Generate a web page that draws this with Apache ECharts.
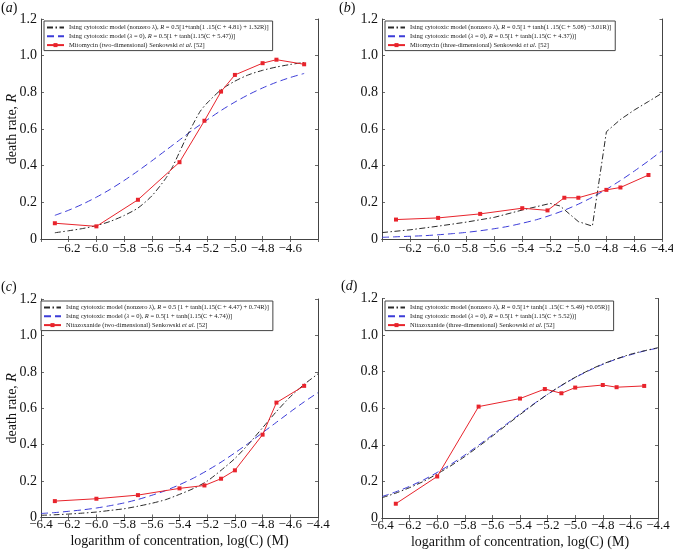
<!DOCTYPE html>
<html><head><meta charset="utf-8">
<script src="https://cdn.jsdelivr.net/npm/echarts@6/dist/echarts.min.js"></script>
<style>html,body{margin:0;padding:0;background:#fff}#c{width:673px;height:550px}</style>
</head><body><div id="c"></div>
<script>
// ---------- data ----------
const expX = [-6.3, -6.0, -5.7, -5.4, -5.22, -5.1, -5.0, -4.8, -4.7, -4.5];
const redA = [0.086, 0.069, 0.214, 0.419, 0.645, 0.804, 0.895, 0.959, 0.978, 0.953];
const redB = [0.106, 0.115, 0.137, 0.168, 0.156, 0.225, 0.225, 0.268, 0.281, 0.349];
const redC = [0.090, 0.103, 0.123, 0.160, 0.176, 0.213, 0.259, 0.455, 0.631, 0.723];
const redD = [0.078, 0.227, 0.609, 0.653, 0.705, 0.682, 0.713, 0.727, 0.715, 0.722];

const xA = [-6.3, -6.2, -6.1, -6.0, -5.9, -5.8, -5.7, -5.6, -5.5, -5.4, -5.3, -5.2, -5.1, -5.0, -4.9, -4.8, -4.7, -4.6, -4.5];
const blueA = [0.129, 0.157, 0.190, 0.228, 0.271, 0.319, 0.371, 0.426, 0.483, 0.540, 0.597, 0.650, 0.701, 0.747, 0.788, 0.824, 0.855, 0.881, 0.903];
const xABlack = [-6.3, -6.2, -6.1, -6.0, -5.9, -5.8, -5.7, -5.6, -5.5, -5.45, -5.4, -5.35, -5.3, -5.25, -5.2, -5.1, -5.0, -4.9, -4.8, -4.7, -4.6, -4.5];
const blackA = [0.034, 0.045, 0.057, 0.073, 0.096, 0.128, 0.169, 0.235, 0.330, 0.394, 0.474, 0.555, 0.629, 0.697, 0.742, 0.814, 0.861, 0.896, 0.920, 0.938, 0.952, 0.963];

const xFull = [-6.4, -6.3, -6.2, -6.1, -6.0, -5.9, -5.8, -5.7, -5.6, -5.5, -5.4, -5.3, -5.2, -5.1, -5.0, -4.9, -4.8, -4.7, -4.6, -4.5, -4.4];
const blueB = [0.009, 0.012, 0.015, 0.018, 0.023, 0.029, 0.036, 0.045, 0.056, 0.069, 0.086, 0.105, 0.129, 0.157, 0.190, 0.228, 0.271, 0.319, 0.371, 0.426, 0.483];
const xBBlack = [-6.4, -6.2, -6.0, -5.8, -5.6, -5.4, -5.3, -5.2, -5.13, -5.0, -4.9, -4.8, -4.7, -4.6, -4.5, -4.4];
const blackB = [0.035, 0.050, 0.070, 0.092, 0.118, 0.158, 0.176, 0.194, 0.180, 0.095, 0.070, 0.585, 0.652, 0.704, 0.750, 0.797];

const blueC = [0.022, 0.027, 0.034, 0.042, 0.052, 0.065, 0.080, 0.099, 0.122, 0.148, 0.180, 0.216, 0.258, 0.304, 0.355, 0.409, 0.466, 0.523, 0.580, 0.635, 0.686];
const blackC = [0.012, 0.015, 0.019, 0.024, 0.030, 0.039, 0.048, 0.062, 0.078, 0.098, 0.127, 0.159, 0.200, 0.259, 0.324, 0.404, 0.493, 0.582, 0.663, 0.731, 0.789];

const blueD = [0.117, 0.143, 0.173, 0.208, 0.249, 0.294, 0.344, 0.398, 0.454, 0.512, 0.569, 0.624, 0.676, 0.724, 0.768, 0.806, 0.840, 0.869, 0.892, 0.913, 0.929];
const blackD = [0.111, 0.136, 0.166, 0.200, 0.241, 0.286, 0.336, 0.391, 0.448, 0.507, 0.565, 0.622, 0.676, 0.725, 0.769, 0.808, 0.842, 0.870, 0.895, 0.914, 0.931];

const yTickLabels = [0, 0.2, 0.4, 0.6, 0.8, 1.0, 1.2];
const xTicksA = [-6.2, -6.0, -5.8, -5.6, -5.4, -5.2, -5.0, -4.8, -4.6];
const xTicksB = [-6.2, -6.0, -5.8, -5.6, -5.4, -5.2, -5.0, -4.8, -4.6, -4.4];
const xTicksCD = [-6.4, -6.2, -6.0, -5.8, -5.6, -5.4, -5.2, -5.0, -4.8, -4.6, -4.4];

const namesA = ['Ising cytotoxic model (nonzero λ), R = 0.5[1+tanh(1 .15(C + 4.81) + 1.32R)]',
  'Ising cytotoxic model (λ = 0), R = 0.5[1 + tanh(1.15(C + 5.47))]',
  'Mitomycin (two-dimensional) Senkowski et al. [52]'];
const namesB = ['Ising cytotoxic model (nonzero λ), R = 0.5[1 + tanh(1 .15(C + 5.08) −3.01R)]',
  'Ising cytotoxic model (λ = 0), R = 0.5[1 + tanh(1.15(C + 4.37))]',
  'Mitomycin (three-dimensional) Senkowski et al. [52]'];
const namesC = ['Ising cytotoxic model (nonzero λ), R = 0.5 [1 + tanh(1.15(C + 4.47) + 0.74R)]',
  'Ising cytotoxic model (λ = 0), R = 0.5[1 + tanh(1.15(C + 4.74))]',
  'Nitazoxanide (two-dimensional) Senkowski et al. [52]'];
const namesD = ['Ising cytotoxic model (nonzero λ), R = 0.5[1+ tanh(1 .15(C + 5.49) +0.05R)]',
  'Ising cytotoxic model (λ = 0), R = 0.5[1 + tanh(1.15(C + 5.52))]',
  'Nitazoxanide (three-dimensional) Senkowski et al. [52]'];
const panelLetters = ['a', 'b', 'c', 'd'];
const yTitle = 'death rate, ';
const xTitle = 'logarithm of concentration, log(C) (M)';

// ---------- layout / style ----------
const FONT = 'Liberation Serif';
const RED = '#e8242c', BLUE = '#3c3cd8', BLACK = '#2a2a2a', FRAME = '#444';
const zip = (xs, ys) => xs.map((x, i) => [x, ys[i]]);

const panels = [
  {grid: {left: 41, top: 19, width: 277, height: 220}, ticks: xTicksA, names: namesA,
   black: zip(xABlack, blackA), blue: zip(xA, blueA), red: zip(expX, redA), blackSmooth: 0.25,
   legend: {left: 44, top: 21}, yName: true, xName: false, xMargin: 3.5, title: {left: 1, top: 1}},
  {grid: {left: 382, top: 19, width: 280.5, height: 220}, ticks: xTicksB, names: namesB,
   black: zip(xBBlack, blackB), blue: zip(xFull, blueB), red: zip(expX, redB), blackSmooth: false,
   legend: {left: 385, top: 21}, yName: false, xName: false, xMargin: 3.5, title: {left: 339, top: 1}},
  {grid: {left: 41, top: 299, width: 277, height: 218.5}, ticks: xTicksCD, names: namesC,
   black: zip(xFull, blackC), blue: zip(xFull, blueC), red: zip(expX, redC), blackSmooth: 0.25,
   legend: {left: 41, top: 301}, yName: true, xName: true, xMargin: 1, title: {left: 1, top: 280}},
  {grid: {left: 382, top: 298.5, width: 276, height: 219.5}, ticks: xTicksCD, names: namesD,
   black: zip(xFull, blackD), blue: zip(xFull, blueD), red: zip(expX, redD), blackSmooth: 0.25,
   legend: {left: 385, top: 301}, yName: false, xName: true, xMargin: 1, title: {left: 341, top: 279}}
];

const fmtX = shown => v => {
  const r = Math.round(v * 10) / 10;
  if (Math.abs(v - r) > 1e-6) return '';
  if (!shown.some(s => Math.abs(s - r) < 1e-6)) return '';
  return (r < 0 ? '\u2212' : '') + Math.abs(r).toFixed(1);
};
const fmtY = v => {
  const r = Math.round(v * 10) / 10;
  if (!yTickLabels.some(s => Math.abs(s - r) < 1e-6)) return '';
  return r === 0 ? '0' : r.toFixed(1);
};
const richify = name => name.replace('λ', '{i|λ}').replace(', R =', ', {i|R} =').replace('et al.', '{i|et al.}');

const grid = [], xAxis = [], yAxis = [], series = [], legend = [], title = [];
panels.forEach((p, i) => {
  grid.push(Object.assign({outerBoundsMode: 'none', containLabel: false}, p.grid));
  const tick = {show: true, inside: true, length: 3, lineStyle: {color: FRAME, width: 0.8}};
  const line = {show: true, lineStyle: {color: FRAME, width: 1}};
  xAxis.push({
    type: 'value', gridIndex: i, position: 'bottom', min: -6.4, max: -4.4, interval: 0.2,
    axisLine: line, axisTick: tick, splitLine: {show: false},
    axisLabel: {formatter: fmtX(p.ticks), fontFamily: FONT, fontSize: 13, color: '#111', margin: p.xMargin, showMinLabel: true, showMaxLabel: true},
    name: p.xName ? xTitle : '', nameLocation: 'middle', nameGap: 17, nameMoveOverlap: false,
    nameTextStyle: {fontFamily: FONT, fontSize: 14, color: '#111'}
  });
  xAxis.push({
    type: 'value', gridIndex: i, position: 'top', min: -6.4, max: -4.4, interval: 0.2,
    axisLine: line, axisTick: tick, splitLine: {show: false}, axisLabel: {show: false}
  });
  yAxis.push({
    type: 'value', gridIndex: i, position: 'left', min: 0, max: 1.2, interval: 0.2,
    axisLine: line, axisTick: tick, splitLine: {show: false},
    axisLabel: {formatter: fmtY, fontFamily: FONT, fontSize: 14, color: '#111', margin: 4},
    name: p.yName ? yTitle + '{i|R}' : '', nameLocation: 'middle', nameGap: 22, nameRotate: 90, nameMoveOverlap: false,
    nameTextStyle: {fontFamily: FONT, fontSize: 14, color: '#111',
      rich: {i: {fontFamily: FONT, fontSize: 14, fontStyle: 'italic', color: '#111'}}}
  });
  yAxis.push({
    type: 'value', gridIndex: i, position: 'right', min: 0, max: 1.2, interval: 0.2,
    axisLine: line, axisTick: tick, splitLine: {show: false}, axisLabel: {show: false}
  });
  const xi = 2 * i, yi = 2 * i;
  series.push({
    name: p.names[0], type: 'line', xAxisIndex: xi, yAxisIndex: yi, data: p.black,
    symbol: 'none', smooth: p.blackSmooth,
    lineStyle: {color: BLACK, width: 1, type: [6, 2.5, 1.5, 2.5]}, itemStyle: {color: BLACK, opacity: 0}, z: 3
  });
  series.push({
    name: p.names[1], type: 'line', xAxisIndex: xi, yAxisIndex: yi, data: p.blue,
    symbol: 'none', smooth: 0.25,
    lineStyle: {color: BLUE, width: 1, type: [7, 4]}, itemStyle: {color: BLUE, opacity: 0}, z: 2
  });
  series.push({
    name: p.names[2], type: 'line', xAxisIndex: xi, yAxisIndex: yi, data: p.red,
    symbol: 'rect', symbolSize: 4, showSymbol: true,
    lineStyle: {color: RED, width: 1}, itemStyle: {color: RED}, z: 4
  });
  legend.push({
    left: p.legend.left, top: p.legend.top, orient: 'vertical', data: p.names,
    itemWidth: 17, itemHeight: 5, itemGap: 1.8, padding: [3, 4, 2, 2],
    backgroundColor: '#fff', borderColor: FRAME, borderWidth: 1, borderRadius: 0,
    selectedMode: false, formatter: richify,
    textStyle: {fontFamily: FONT, fontSize: 6.5, color: '#222',
      rich: {i: {fontFamily: FONT, fontSize: 6.5, fontStyle: 'italic', color: '#222'}}}
  });
  title.push({
    text: '({i|' + panelLetters[i] + '})', left: p.title.left, top: p.title.top, padding: 0,
    textStyle: {fontFamily: FONT, fontSize: 14, fontWeight: 'normal', color: '#111',
      rich: {i: {fontFamily: FONT, fontSize: 14, fontStyle: 'italic', color: '#111'}}}
  });
});

const chart = echarts.init(document.getElementById('c'), null, {renderer: 'canvas'});
chart.setOption({animation: false, backgroundColor: '#fff', grid, xAxis, yAxis, series, legend, title});
</script></body></html>
